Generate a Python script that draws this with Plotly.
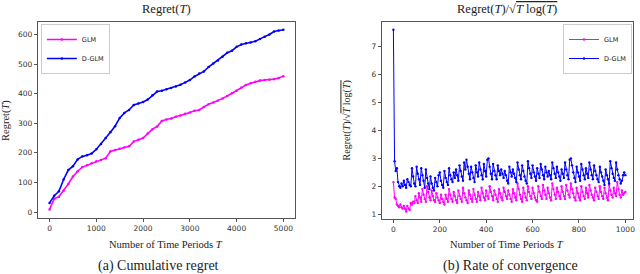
import plotly.graph_objects as go

# ---------------- data ----------------
T_left = [0, 100, 200, 300, 400, 500, 600, 700, 800, 900, 1000, 1100, 1200, 1300, 1400, 1500,
          1600, 1700, 1800, 1900, 2000, 2100, 2200, 2300, 2400, 2500, 2600, 2700, 2800, 2900,
          3000, 3100, 3200, 3300, 3400, 3500, 3600, 3700, 3800, 3900, 4000, 4100, 4200, 4300,
          4400, 4500, 4600, 4700, 4800, 4900, 5000]
glm_regret = [9, 45, 52, 72, 95, 120, 138, 152, 158, 165, 172, 176, 182, 205, 210, 214,
              218, 222, 238, 244, 250, 265, 280, 289, 308, 313, 316, 322, 326, 332,
              336, 342, 345, 355, 364, 370, 376, 384, 392, 401, 410, 420, 429, 435,
              440, 444, 446, 447, 449, 453, 459]
dglm_regret = [31, 55, 70, 110, 142, 155, 178, 188, 192, 198, 212, 230, 250, 270, 290, 318,
               335, 345, 362, 367, 372, 380, 395, 407, 410, 415, 419, 424, 430, 438,
               446, 458, 468, 475, 490, 502, 512, 525, 538, 545, 558, 566, 570, 573,
               577, 585, 592, 600, 610, 613, 616]

dglm_rate = [
    7.60, 2.90, 2.55, 2.65, 2.15, 2.00, 1.95, 2.10, 2.00, 2.20, 2.05, 1.95, 2.25, 2.15, 2.05, 2.00, 2.65, 2.35, 2.10, 2.00,
    2.70, 2.45, 2.25, 2.05, 2.65, 2.40, 2.20, 1.95, 2.60, 2.30, 2.10, 1.90, 2.35, 2.10, 1.95, 1.85, 2.30, 2.15, 2.00, 2.40,
    2.50, 2.20, 2.05, 1.95, 2.55, 2.30, 2.15, 2.05, 2.65, 2.40, 2.25, 2.15, 2.50, 2.30, 2.60, 2.40, 2.20, 2.75, 2.55, 2.35,
    2.20, 2.85, 2.60, 2.95, 2.70, 2.45, 2.25, 2.70, 2.50, 2.30, 2.15, 2.75, 2.50, 2.35, 2.85, 2.60, 2.40, 2.25, 2.80, 2.55,
    2.35, 2.95, 3.00, 2.70, 2.45, 2.25, 2.80, 2.55, 2.40, 2.25, 2.75, 2.55, 2.40, 2.60, 2.45, 2.30, 2.55, 2.40, 2.20, 2.10,
    2.70, 2.50, 2.35, 2.60, 2.45, 2.30, 2.15, 2.85, 2.60, 2.40, 2.25, 2.75, 2.55, 2.35, 2.20, 2.10, 2.90, 2.65, 2.45, 2.30,
    2.75, 2.50, 2.35, 2.20, 2.65, 2.45, 2.30, 2.80, 2.60, 2.40, 2.25, 2.70, 2.50, 2.35, 2.55, 2.40, 2.25, 2.85, 2.65, 2.45,
    2.30, 2.70, 2.50, 2.35, 2.20, 2.60, 2.45, 2.30, 2.85, 2.60, 2.40, 2.25, 2.95, 3.00, 2.75, 2.50, 2.30, 2.15, 2.70, 2.50,
    2.35, 2.20, 2.80, 2.60, 2.40, 2.25, 2.65, 2.45, 2.30, 2.85, 2.60, 2.40, 2.25, 2.75, 2.55, 2.40, 2.25, 2.15, 2.70, 2.50,
    2.35, 2.20, 2.05, 2.60, 2.40, 2.25, 2.10, 2.90, 2.65, 2.45, 2.30, 2.20, 2.85, 2.60, 2.40, 2.25, 2.10, 2.20, 2.40, 2.50,
    2.40]
glm_rate = [
    2.15, 1.60, 1.55, 1.35, 1.30, 1.25, 1.35, 1.25, 1.20, 1.30, 1.20, 1.10, 1.30, 1.20, 1.15, 1.40, 1.35, 1.45, 1.40, 1.65,
    1.50, 1.40, 1.75, 1.60, 1.45, 1.90, 1.70, 1.55, 1.45, 2.00, 1.80, 1.60, 1.50, 1.85, 1.65, 1.50, 1.45, 1.75, 1.60, 1.50,
    1.40, 1.70, 1.55, 1.45, 1.35, 1.70, 1.55, 1.45, 1.90, 1.70, 1.55, 1.45, 1.80, 1.65, 1.50, 1.40, 1.85, 1.65, 1.55, 1.45,
    1.95, 1.75, 1.60, 1.50, 1.40, 1.85, 1.70, 1.55, 1.45, 1.90, 1.70, 1.55, 1.45, 1.80, 1.65, 1.50, 1.95, 1.75, 1.60, 1.50,
    1.85, 1.65, 1.55, 2.00, 1.80, 1.65, 1.50, 1.85, 1.70, 1.55, 1.45, 1.90, 1.75, 1.60, 1.50, 1.95, 1.80, 1.65, 1.55, 1.85,
    1.70, 1.55, 1.45, 1.90, 1.75, 1.60, 1.50, 2.10, 1.90, 1.70, 1.55, 1.45, 1.95, 1.75, 1.60, 1.50, 2.00, 1.80, 1.65, 1.55,
    1.95, 1.75, 1.60, 1.50, 1.45, 2.00, 1.80, 1.65, 1.55, 2.05, 1.85, 1.70, 1.55, 1.95, 1.75, 1.60, 1.50, 2.10, 1.90, 1.70,
    1.55, 1.95, 1.80, 1.65, 1.55, 2.00, 1.80, 1.65, 1.55, 2.05, 1.85, 1.70, 1.60, 2.10, 1.90, 1.75, 1.60, 1.50, 1.95, 1.75,
    1.60, 1.50, 2.00, 1.80, 1.65, 1.55, 1.95, 1.75, 1.60, 2.05, 1.85, 1.70, 1.60, 1.50, 1.95, 1.80, 1.65, 1.55, 2.00, 1.80,
    1.65, 1.55, 1.95, 1.75, 1.60, 1.50, 2.05, 1.85, 1.70, 1.60, 1.95, 1.75, 1.65, 2.15, 1.90, 1.70, 1.60, 1.85, 1.70, 1.75,
    1.80]
T_right_step = 5
T_right_g = [T_right_step * i for i in range(len(glm_rate))]
T_right_d = [T_right_step * i for i in range(len(dglm_rate))]

left_xticks = [0, 1000, 2000, 3000, 4000, 5000]
left_yticks = [0, 100, 200, 300, 400, 500, 600]
right_xticks = [0, 200, 400, 600, 800, 1000]
right_yticks = [1, 2, 3, 4, 5, 6, 7]

MAGENTA = "#ff00ff"
BLUE = "#0000ff"
W, H = 640, 274

fig = go.Figure()
fig.add_trace(go.Scatter(x=T_left, y=glm_regret, name="GLM", mode="lines+markers",
                         line=dict(color=MAGENTA, width=1.6), marker=dict(size=2.5, color=MAGENTA),
                         xaxis="x", yaxis="y", legend="legend"))
fig.add_trace(go.Scatter(x=T_left, y=dglm_regret, name="D-GLM", mode="lines+markers",
                         line=dict(color=BLUE, width=1.6), marker=dict(size=2.5, color=BLUE),
                         xaxis="x", yaxis="y", legend="legend"))
fig.add_trace(go.Scatter(x=T_right_g, y=glm_rate, name="GLM", mode="lines+markers",
                         line=dict(color=MAGENTA, width=1.0), marker=dict(size=2.4, color=MAGENTA),
                         xaxis="x2", yaxis="y2", legend="legend2"))
fig.add_trace(go.Scatter(x=T_right_d, y=dglm_rate, name="D-GLM", mode="lines+markers",
                         line=dict(color=BLUE, width=1.0), marker=dict(size=2.4, color=BLUE),
                         xaxis="x2", yaxis="y2", legend="legend2"))

def px_x(p):
    return p / W

def px_y(p):
    return (H - p) / H

axis_common = dict(showline=True, mirror=True, linecolor="#555555", linewidth=1,
                   ticks="outside", ticklen=3, tickcolor="#555555", tickwidth=0.8,
                   showgrid=False, zeroline=False,
                   tickfont=dict(family="DejaVu Sans", size=7.5, color="#333333"))

L0, L1, LT, LB = 38, 296, 22, 218
R0, R1, RT, RB = 383, 635, 22, 219

legend_common = dict(bgcolor="rgba(255,255,255,0.8)", bordercolor="#cccccc", borderwidth=1,
                     font=dict(family="DejaVu Sans", size=6.5, color="#222222"),
                     itemwidth=30, tracegroupgap=0)

fig.update_layout(
    width=W, height=H, margin=dict(l=0, r=0, t=0, b=0),
    paper_bgcolor="white", plot_bgcolor="white",
    xaxis=dict(domain=[px_x(L0), px_x(L1)], range=[-250, 5250], tickvals=left_xticks,
               anchor="y", **axis_common),
    yaxis=dict(domain=[px_y(LB), px_y(LT)], range=[-20, 642], tickvals=left_yticks,
               anchor="x", **axis_common),
    xaxis2=dict(domain=[px_x(R0), px_x(R1)], range=[-50, 1033], tickvals=right_xticks,
                anchor="y2", **axis_common),
    yaxis2=dict(domain=[px_y(RB), px_y(RT)], range=[0.83, 7.88], tickvals=right_yticks,
                anchor="x2", **axis_common),
    legend=dict(x=px_x(41), y=px_y(24), xanchor="left", yanchor="top", **legend_common),
    legend2=dict(x=px_x(634), y=px_y(24), xanchor="right", yanchor="top", **legend_common),
    showlegend=True,
)

SERIF = "Liberation Serif"
def ann(text, xp, yp, size, angle=0):
    fig.add_annotation(text=text, x=px_x(xp), y=px_y(yp), xref="paper", yref="paper",
                       showarrow=False, xanchor="center", yanchor="middle", textangle=angle,
                       font=dict(family=SERIF, size=size, color="#222222"))

rate_label = "Regret(<i>T</i>)/√<span style='text-decoration:overline'><i>T</i> log(<i>T</i>)</span>"

ann("Regret(<i>T</i>)", (L0 + L1) / 2, 9, 12.5)
ann(rate_label, (R0 + R1) / 2, 9, 12.5)
ann("Regret(<i>T</i>)", 6, (LT + LB) / 2, 10.5, -90)
ann(rate_label, 348, (RT + RB) / 2, 10, -90)
ann("Number of Time Periods <i>T</i>", (L0 + L1) / 2, 244, 10.5)
ann("Number of Time Periods <i>T</i>", (R0 + R1) / 2, 244, 10.5)
ann("(a) Cumulative regret", 159, 266, 14)
ann("(b) Rate of convergence", 512, 266, 14)

fig.write_html("out.html", config={"displayModeBar": False},
               post_script="document.body.style.margin='0';document.body.style.overflow='hidden';")
